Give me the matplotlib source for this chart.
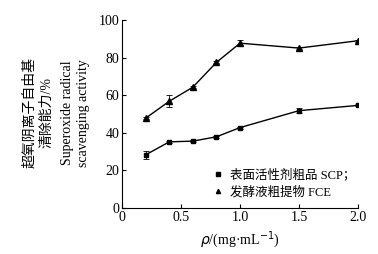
import matplotlib
matplotlib.use("Agg")
import matplotlib.pyplot as plt

conc = [0.2, 0.4, 0.6, 0.8, 1.0, 1.5, 2.0]
scp = [28.3, 35.2, 35.6, 37.9, 42.8, 51.8, 54.6]
scp_err = [2.0, 0.5, 0.5, 0.5, 0.5, 1.2, 0.5]
fce = [47.8, 56.8, 64.3, 77.5, 87.7, 85.1, 89.0]
fce_err = [0.5, 3.2, 0.5, 0.5, 1.6, 0.5, 0.5]

plt.rcParams['font.family'] = ['Liberation Serif', 'Noto Sans CJK SC']
plt.rcParams['font.size'] = 10

fig = plt.figure(figsize=(3.78, 2.54), dpi=100)
ax = fig.add_axes([0.323, 0.181, 0.624, 0.74])

ax.errorbar(conc, scp, yerr=scp_err, color='black', marker='s', markersize=3.5,
            linewidth=1, elinewidth=0.6, capsize=2, capthick=0.6,
            label='表面活性剂粗品 SCP；')
ax.errorbar(conc, fce, yerr=fce_err, color='black', marker='^', markersize=4,
            linewidth=1, elinewidth=0.6, capsize=2, capthick=0.6,
            label='发酵液粗提物 FCE')

ax.set_xlim(0, 2.0)
ax.set_ylim(0, 100)
ax.set_xticks([0, 0.5, 1.0, 1.5, 2.0])
ax.set_xticklabels(['0', '0.5', '1.0', '1.5', '2.0'])
ax.set_yticks([0, 20, 40, 60, 80, 100])
ax.spines['top'].set_visible(False)
ax.spines['right'].set_visible(False)
ax.tick_params(direction='in', length=3, width=0.8, pad=2)

h, l = ax.get_legend_handles_labels()
h = [x[0] for x in h]
leg = ax.legend(h, l, loc='lower right', frameon=False, handlelength=0.5,
                handletextpad=0.7, borderaxespad=0.2, labelspacing=0.4,
                bbox_to_anchor=(1.02, 0.01), prop={'size': 9})
for line in leg.get_lines():
    line.set_linestyle('none')
    line.set_markersize(3)

ax.set_xlabel(r'$\rho$/(mg·mL$^{-1}$)', labelpad=4)

ylines = ['超氧阴离子自由基', '清除能力/%', 'Superoxide radical', 'scavenging activity']
xs = [30, 47, 67, 83]
for t, x in zip(ylines, xs):
    fig.text(x / 378, 1 - 113 / 254, t, rotation=90, ha='center', va='center',
             fontsize=10)

fig.savefig('out.png', dpi=100)
